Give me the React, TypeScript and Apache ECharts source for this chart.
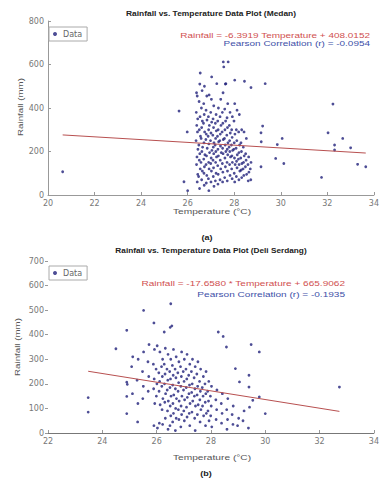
import React, { useEffect, useRef } from "react";
import * as echarts from "echarts";

const medanXTicks = [20, 22, 24, 26, 28, 30, 32, 34];
const medanYTicks = [0, 200, 400, 600, 800];
const deliXTicks = [22, 24, 26, 28, 30, 32, 34];
const deliYTicks = [0, 100, 200, 300, 400, 500, 600, 700];

const medanSlope = -6.3919;
const medanIntercept = 408.0152;
const medanR = -0.0954;
const deliSlope = -17.658;
const deliIntercept = 665.9062;
const deliR = -0.1935;

// [temperature, rainfall]
const medanPoints: number[][] = [
  [20.63, 107], [25.63, 386], [25.98, 290], [25.84, 61], [26.0, 20], [26.54, 561], [27.03, 543],
  [27.53, 612], [27.55, 589], [27.74, 612], [27.25, 512], [27.64, 512], [28.02, 528], [28.44, 523],
  [28.72, 494], [29.33, 512], [29.22, 317], [29.15, 286], [29.16, 245], [30.06, 260], [29.85, 232],
  [29.78, 168], [30.13, 145], [29.15, 130], [32.24, 418], [32.03, 286], [32.31, 230], [32.66, 260],
  [33.0, 217], [31.75, 81], [33.3, 141], [33.65, 130], [32.31, 207],
  [26.38, 470], [26.41, 455], [26.37, 380], [26.43, 350], [26.39, 320], [26.42, 290], [26.36, 250], [26.44, 210], [26.4, 175], [26.38, 140], [26.43, 95], [26.41, 60],
  [26.52, 510], [26.49, 430], [26.53, 360], [26.5, 300], [26.55, 270], [26.48, 230], [26.52, 190], [26.5, 160], [26.54, 120], [26.47, 85], [26.51, 30],
  [26.62, 480], [26.59, 400], [26.63, 340], [26.6, 310], [26.58, 260], [26.64, 220], [26.61, 200], [26.57, 150], [26.63, 110], [26.6, 70],
  [26.72, 500], [26.69, 420], [26.71, 370], [26.68, 330], [26.73, 290], [26.7, 240], [26.74, 185], [26.69, 165], [26.72, 130], [26.7, 100], [26.71, 45],
  [26.82, 455], [26.79, 390], [26.83, 345], [26.8, 280], [26.78, 255], [26.84, 215], [26.81, 180], [26.79, 140], [26.82, 90], [26.8, 55],
  [26.92, 460], [26.89, 360], [26.93, 320], [26.9, 300], [26.88, 270], [26.91, 235], [26.94, 195], [26.9, 150], [26.92, 120], [26.89, 75], [26.91, 20],
  [27.02, 440], [26.99, 380], [27.03, 335], [27.0, 285], [26.98, 250], [27.04, 205], [27.01, 170], [26.99, 145], [27.02, 110], [27.0, 60],
  [27.12, 410], [27.09, 350], [27.11, 310], [27.08, 275], [27.13, 240], [27.1, 220], [27.12, 190], [27.09, 160], [27.11, 125], [27.1, 85], [27.13, 40],
  [27.22, 370], [27.19, 330], [27.23, 295], [27.2, 260], [27.18, 230], [27.21, 200], [27.24, 175], [27.2, 150], [27.22, 100], [27.19, 65],
  [27.32, 400], [27.29, 340], [27.31, 300], [27.28, 270], [27.33, 245], [27.3, 210], [27.32, 180], [27.29, 135], [27.31, 95], [27.3, 50],
  [27.42, 440], [27.39, 360], [27.43, 320], [27.4, 280], [27.38, 250], [27.41, 225], [27.44, 195], [27.4, 160], [27.42, 120], [27.39, 70],
  [27.52, 470], [27.49, 380], [27.51, 330], [27.48, 290], [27.53, 255], [27.5, 215], [27.52, 190], [27.49, 145], [27.51, 105], [27.5, 60],
  [27.62, 510], [27.59, 395], [27.63, 340], [27.6, 300], [27.58, 260], [27.61, 230], [27.64, 200], [27.6, 170], [27.62, 130], [27.59, 80],
  [27.72, 420], [27.69, 355], [27.71, 310], [27.68, 275], [27.73, 240], [27.7, 210], [27.72, 185], [27.69, 150], [27.71, 110], [27.7, 65],
  [27.82, 380], [27.79, 320], [27.83, 285], [27.8, 250], [27.78, 220], [27.81, 200], [27.84, 175], [27.8, 140], [27.82, 90],
  [27.92, 360], [27.89, 300], [27.91, 265], [27.88, 230], [27.93, 205], [27.9, 180], [27.92, 150], [27.89, 120], [27.91, 75],
  [28.02, 420], [27.99, 340], [28.03, 280], [28.0, 240], [27.98, 210], [28.01, 170], [28.04, 140], [28.0, 100], [28.02, 60],
  [28.12, 390], [28.09, 300], [28.11, 250], [28.08, 215], [28.13, 185], [28.1, 155], [28.12, 125], [28.09, 85],
  [28.22, 370], [28.19, 290], [28.23, 230], [28.2, 195], [28.18, 165], [28.21, 140], [28.24, 110], [28.2, 70],
  [28.32, 300], [28.29, 240], [28.31, 200], [28.28, 170], [28.33, 145], [28.3, 115], [28.32, 80],
  [28.42, 290], [28.39, 220], [28.43, 180], [28.4, 150], [28.38, 120], [28.41, 90],
  [28.52, 260], [28.49, 190], [28.51, 160], [28.48, 130], [28.53, 95],
  [28.62, 175], [28.59, 140], [28.63, 105], [28.6, 65],
  [28.72, 150], [28.69, 120], [28.71, 70],
];

const deliPoints: number[][] = [
  [23.48, 144], [23.48, 85], [24.9, 418], [24.5, 343], [24.9, 207], [24.92, 198], [24.9, 149], [24.9, 79],
  [25.3, 45], [25.52, 499], [25.9, 448], [26.52, 526], [26.5, 430], [26.56, 436], [26.28, 411], [28.27, 411],
  [28.45, 393], [28.57, 350], [28.9, 262], [29.48, 360], [29.78, 330], [29.4, 235], [29.4, 187], [29.54, 133],
  [29.78, 147], [30.0, 79], [32.73, 187], [29.05, 208],
  [25.12, 310], [25.08, 270], [25.11, 160],
  [25.32, 300], [25.28, 215], [25.31, 120],
  [25.52, 330], [25.48, 250], [25.51, 190], [25.49, 140],
  [25.72, 360], [25.68, 290], [25.71, 230], [25.69, 170],
  [25.92, 340], [25.88, 280], [25.91, 220], [25.89, 180], [25.93, 120], [25.9, 30],
  [26.02, 355], [25.98, 260], [26.01, 200], [25.99, 150], [26.03, 20],
  [26.12, 330], [26.08, 245], [26.11, 210], [26.09, 170], [26.13, 115], [26.1, 40],
  [26.22, 300], [26.18, 270], [26.21, 230], [26.19, 190], [26.23, 140], [26.2, 95], [26.22, 35],
  [26.32, 345], [26.28, 280], [26.31, 240], [26.29, 200], [26.33, 160], [26.3, 125], [26.32, 60],
  [26.42, 320], [26.38, 260], [26.41, 215], [26.39, 175], [26.43, 130], [26.4, 90], [26.42, 15],
  [26.52, 300], [26.48, 250], [26.51, 220], [26.49, 185], [26.53, 150], [26.5, 110], [26.52, 70], [26.49, 30],
  [26.62, 340], [26.58, 275], [26.61, 235], [26.59, 195], [26.63, 155], [26.6, 120], [26.62, 80], [26.59, 45],
  [26.72, 310], [26.68, 260], [26.71, 225], [26.69, 180], [26.73, 140], [26.7, 100], [26.72, 60], [26.69, 10],
  [26.82, 290], [26.78, 245], [26.81, 205], [26.79, 170], [26.83, 130], [26.8, 95], [26.82, 55],
  [26.92, 330], [26.88, 270], [26.91, 230], [26.89, 190], [26.93, 150], [26.9, 110], [26.92, 75], [26.89, 25],
  [27.02, 300], [26.98, 250], [27.01, 210], [26.99, 175], [27.03, 135], [27.0, 90], [27.02, 50],
  [27.12, 320], [27.08, 260], [27.11, 220], [27.09, 185], [27.13, 145], [27.1, 105], [27.12, 65],
  [27.22, 280], [27.18, 235], [27.21, 195], [27.19, 160], [27.23, 120], [27.2, 80], [27.22, 30],
  [27.32, 300], [27.28, 250], [27.31, 200], [27.29, 165], [27.33, 130], [27.3, 85],
  [27.42, 270], [27.38, 225], [27.41, 180], [27.39, 150], [27.43, 110], [27.4, 60], [27.42, 10],
  [27.52, 290], [27.48, 240], [27.51, 190], [27.49, 155], [27.53, 115], [27.5, 75],
  [27.62, 260], [27.58, 210], [27.61, 170], [27.59, 135], [27.63, 95], [27.6, 45],
  [27.72, 230], [27.68, 185], [27.71, 150], [27.69, 110], [27.73, 70],
  [27.82, 250], [27.78, 200], [27.81, 160], [27.79, 125], [27.83, 80], [27.8, 30],
  [27.92, 210], [27.88, 170], [27.91, 130], [27.89, 90], [27.93, 50],
  [28.02, 190], [27.98, 150], [28.01, 110], [27.99, 70], [28.03, 25],
  [28.22, 175], [28.18, 135], [28.21, 95], [28.19, 55],
  [28.42, 160], [28.38, 120], [28.41, 80], [28.39, 40],
  [28.62, 140], [28.58, 95], [28.61, 55], [28.59, 15],
  [28.82, 110], [28.78, 75], [28.81, 35],
  [29.02, 60], [28.98, 30],
  [29.22, 90], [29.18, 50],
  [29.42, 105], [29.38, 20],
];

function fitLine(points: number[][], slope: number, intercept: number) {
  const ts = points.map((p) => p[0]);
  const lo = Math.min(...ts);
  const hi = Math.max(...ts);
  return [
    [lo, slope * lo + intercept],
    [hi, slope * hi + intercept],
  ];
}

const FONT = "Liberation Sans";
const TICKFONT = "DejaVu Sans";
const axisLabel = { fontSize: 8, color: "#777", fontFamily: TICKFONT, margin: 4 };
const axisLine = { show: true, lineStyle: { color: "#999", width: 1 } };
const axisTick = { show: true, inside: true, length: 3, lineStyle: { color: "#999" } };
const legendBase = {
  data: ["Data"],
  left: 49,
  orient: "vertical",
  itemWidth: 4,
  itemHeight: 4,
  itemGap: 0,
  padding: [3, 5, 3, 4],
  borderColor: "#aaa",
  borderWidth: 1,
  textStyle: { fontSize: 8, color: "#666", fontFamily: TICKFONT, padding: [0, 0, 0, 1] },
};

export default function App() {
  const ref = useRef<HTMLDivElement>(null);
  useEffect(() => {
    if (!ref.current) return;
    const chart = echarts.init(ref.current, null, { renderer: "svg" });
    const text = (x: number, y: number, t: string, fill: string, opts: any = {}) => ({
      type: "text",
      x,
      y,
      scaleX: opts.sx || 1,
      rotation: opts.rot || 0,
      style: {
        text: t,
        fill,
        font: `${opts.bold ? "bold " : ""}${opts.size || 7.5}px ${FONT}`,
        textAlign: opts.align || "center",
        textVerticalAlign: "middle",
      },
    });
    chart.setOption({
      animation: false,
      backgroundColor: "#fff",
      grid: [
        { left: 48, right: 4, top: 21, height: 174 },
        { left: 48, right: 2, top: 261, height: 172 },
      ],
      legend: [
        { ...legendBase, top: 27 },
        { ...legendBase, top: 266 },
      ],
      xAxis: [
        {
          gridIndex: 0,
          type: "value",
          min: medanXTicks[0],
          max: medanXTicks[medanXTicks.length - 1],
          interval: 2,
          axisLine,
          axisTick,
          axisLabel,
          splitLine: { show: false },
        },
        {
          gridIndex: 1,
          type: "value",
          min: deliXTicks[0],
          max: deliXTicks[deliXTicks.length - 1],
          interval: 2,
          axisLine: { show: true, lineStyle: { color: "#777", width: 1 } },
          axisTick,
          axisLabel,
          splitLine: { show: false },
        },
      ],
      yAxis: [
        {
          gridIndex: 0,
          type: "value",
          min: medanYTicks[0],
          max: medanYTicks[medanYTicks.length - 1],
          interval: 200,
          axisLine,
          axisTick,
          axisLabel,
          splitLine: { show: false },
        },
        {
          gridIndex: 1,
          type: "value",
          min: deliYTicks[0],
          max: deliYTicks[deliYTicks.length - 1],
          interval: 100,
          axisLine: { show: false },
          axisTick: { show: true, inside: false, length: 3, lineStyle: { color: "#999" } },
          axisLabel,
          splitLine: { show: false },
        },
      ],
      series: [
        {
          name: "Data",
          type: "scatter",
          xAxisIndex: 0,
          yAxisIndex: 0,
          data: medanPoints,
          symbolSize: 2.8,
          itemStyle: { color: "#20207a" },
        },
        {
          name: "Fit",
          type: "line",
          xAxisIndex: 0,
          yAxisIndex: 0,
          data: fitLine(medanPoints, medanSlope, medanIntercept),
          symbol: "none",
          lineStyle: { color: "#b85050", width: 1 },
        },
        {
          name: "Data",
          type: "scatter",
          xAxisIndex: 1,
          yAxisIndex: 1,
          data: deliPoints,
          symbolSize: 2.8,
          itemStyle: { color: "#20207a" },
        },
        {
          name: "Fit",
          type: "line",
          xAxisIndex: 1,
          yAxisIndex: 1,
          data: fitLine(deliPoints, deliSlope, deliIntercept),
          symbol: "none",
          lineStyle: { color: "#b85050", width: 1 },
        },
      ],
      graphic: [
        text(211, 14, "Rainfall vs. Temperature Data Plot (Medan)", "#222", { bold: true, sx: 1.12 }),
        text(370, 35, `Rainfall = ${medanSlope.toFixed(4)} Temperature + ${medanIntercept.toFixed(4)}`, "#d05050", { align: "right", sx: 1.33 }),
        text(370, 43, `Pearson Correlation (r) = ${medanR.toFixed(4)}`, "#4050a8", { align: "right", sx: 1.33 }),
        text(20, 107, "Rainfall (mm)", "#555", { rot: Math.PI / 2, sx: 1.3 }),
        text(212, 211, "Temperature (°C)", "#555", { sx: 1.36 }),
        text(207, 238, "(a)", "#222", { bold: true, sx: 1.2 }),
        text(211, 251, "Rainfall vs. Temperature Data Plot (Deli Serdang)", "#222", { bold: true, sx: 1.1 }),
        text(345, 283, `Rainfall = ${deliSlope.toFixed(4)} * Temperature + ${deliIntercept.toFixed(4)}`, "#d05050", { align: "right", sx: 1.34 }),
        text(345, 294, `Pearson Correlation (r) = ${deliR.toFixed(4)}`, "#4050a8", { align: "right", sx: 1.34 }),
        text(17, 347, "Rainfall (mm)", "#555", { rot: Math.PI / 2, sx: 1.3 }),
        text(212, 457, "Temperature (°C)", "#555", { sx: 1.36 }),
        text(206, 474, "(b)", "#222", { bold: true, sx: 1.2 }),
      ],
    });
    return () => chart.dispose();
  }, []);
  return (
    <div
      ref={ref}
      style={{ position: "fixed", left: 0, top: 0, width: 382, height: 483, background: "#fff" }}
    />
  );
}
